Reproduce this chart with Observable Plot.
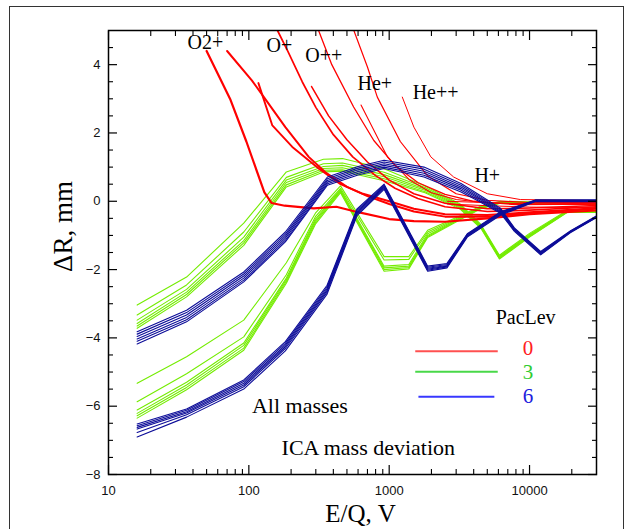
<!DOCTYPE html>
<html><head><meta charset="utf-8">
<script src="https://cdn.jsdelivr.net/npm/d3@7"></script>
<script src="https://cdn.jsdelivr.net/npm/@observablehq/plot@0.6"></script>
<style>
html,body{margin:0;padding:0;background:#fff;overflow:hidden;}
#wrap{position:relative;width:631px;height:529px;}
#border{position:absolute;left:9px;top:6px;width:615px;height:600px;border:1.5px solid #333;border-bottom:none;box-sizing:border-box;pointer-events:none;}
</style></head><body>
<div id="wrap"><div id="border"></div><div id="chart"></div></div>
<script>
// ---------- DATA ----------
// PacLev 3 (green), upper bundle
const g1E = [16, 36, 92, 185, 340, 465, 920, 1800, 3200, 4500, 6100, 10000, 18500, 30000];
const g1Lines = [
  [-3.04, -2.22, -0.64, 0.86, 1.23, 1.25, 0.95, 0.45, -0.08, -0.68, -1.58, -0.94, -0.27, -0.27],
  [-3.33, -2.45, -0.90, 0.70, 1.10, 1.12, 0.85, 0.40, -0.11, -0.71, -1.61, -0.97, -0.29, -0.29],
  [-3.48, -2.58, -1.05, 0.62, 1.02, 1.05, 0.78, 0.36, -0.14, -0.73, -1.63, -0.99, -0.30, -0.30],
  [-3.58, -2.66, -1.15, 0.55, 0.96, 0.98, 0.72, 0.32, -0.17, -0.75, -1.65, -1.01, -0.31, -0.31],
  [-3.65, -2.73, -1.22, 0.48, 0.91, 0.92, 0.66, 0.28, -0.20, -0.77, -1.67, -1.03, -0.32, -0.32],
  [-3.72, -2.80, -1.29, 0.42, 0.86, 0.88, 0.60, 0.25, -0.23, -0.79, -1.69, -1.05, -0.33, -0.33]
];
// PacLev 3 (green), lower bundle
const g2E = [16, 36, 92, 185, 298, 450, 920, 1380, 1880, 3300, 4500, 6200, 12000, 30000];
const g2Lines = [
  [-5.33, -4.55, -3.48, -1.80, -0.35, 0.45, -1.62, -1.62, -0.85, -0.40, -0.14, 0.00, -0.02, -0.03],
  [-5.87, -5.05, -3.97, -2.15, -0.45, 0.38, -1.72, -1.70, -0.90, -0.43, -0.16, -0.02, -0.04, -0.05],
  [-6.11, -5.30, -4.15, -2.25, -0.52, 0.34, -1.90, -1.85, -0.95, -0.45, -0.18, -0.03, -0.05, -0.06],
  [-6.21, -5.38, -4.22, -2.30, -0.57, 0.31, -1.95, -1.90, -1.00, -0.47, -0.19, -0.04, -0.06, -0.07],
  [-6.28, -5.45, -4.30, -2.35, -0.62, 0.28, -2.00, -1.94, -1.03, -0.49, -0.20, -0.05, -0.07, -0.08],
  [-6.35, -5.52, -4.36, -2.40, -0.67, 0.25, -2.05, -1.98, -1.06, -0.51, -0.22, -0.06, -0.08, -0.09]
];
// PacLev 6 (blue), upper bundle
const b1E = [16, 36, 92, 182, 363, 600, 920, 1770, 3250, 4250, 6200, 7800, 12000, 19500, 30000];
const b1Lines = [
  [-3.82, -3.19, -2.07, -0.90, 0.71, 1.02, 1.20, 1.00, 0.52, 0.22, -0.20, -0.78, -1.47, -0.87, -0.43],
  [-3.89, -3.26, -2.13, -0.96, 0.66, 0.97, 1.15, 0.94, 0.47, 0.18, -0.23, -0.80, -1.49, -0.88, -0.44],
  [-3.96, -3.33, -2.19, -1.02, 0.61, 0.92, 1.10, 0.88, 0.42, 0.14, -0.26, -0.82, -1.51, -0.89, -0.45],
  [-4.03, -3.40, -2.25, -1.08, 0.56, 0.87, 1.05, 0.82, 0.37, 0.10, -0.29, -0.84, -1.53, -0.90, -0.46],
  [-4.10, -3.47, -2.31, -1.14, 0.51, 0.82, 1.00, 0.76, 0.32, 0.06, -0.32, -0.86, -1.55, -0.91, -0.47],
  [-4.18, -3.53, -2.36, -1.19, 0.47, 0.77, 0.96, 0.71, 0.27, 0.02, -0.35, -0.88, -1.57, -0.92, -0.48]
];
// PacLev 6 (blue), lower bundle
const b2E = [16, 36, 92, 182, 361, 590, 920, 1880, 2580, 3600, 6200, 11000, 30000];
const b2Lines = [
  [-6.52, -6.08, -5.23, -4.11, -2.46, -0.22, 0.50, -1.90, -1.82, -0.95, -0.31, 0.04, 0.04],
  [-6.57, -6.12, -5.28, -4.16, -2.51, -0.26, 0.47, -1.93, -1.85, -0.97, -0.33, 0.03, 0.03],
  [-6.62, -6.16, -5.33, -4.21, -2.56, -0.30, 0.44, -1.96, -1.88, -0.99, -0.35, 0.02, 0.02],
  [-6.67, -6.20, -5.38, -4.26, -2.61, -0.34, 0.41, -1.99, -1.90, -1.01, -0.37, 0.01, 0.01],
  [-6.77, -6.25, -5.43, -4.31, -2.66, -0.38, 0.38, -2.02, -1.92, -1.03, -0.39, 0.00, 0.00],
  [-6.90, -6.32, -5.50, -4.38, -2.72, -0.42, 0.35, -2.05, -1.95, -1.05, -0.41, -0.01, -0.01]
];
// PacLev 0 (red), one line per ion / sector : [E/Q, dR]
const red_O2p_1 = [[50,4.4],[74,2.97],[96,1.75],[129,0.26],[145,-0.05],[180,-0.13],[290,-0.21],[420,-0.16],[600,-0.32],[1000,-0.52],[1500,-0.58],[2500,-0.6],[5000,-0.5],[10000,-0.38],[30000,-0.27]];
const red_O2p_2 = [[70,4.4],[105,3.54],[128,3.05],[182,2.17],[267,1.3],[351,0.85],[500,0.42],[700,0.15],[1000,-0.08],[1500,-0.3],[2500,-0.45],[5000,-0.45],[10000,-0.35],[30000,-0.22]];
const red_O2p_3 = [[117,3.46],[147,2.22],[204,1.59],[316,0.95],[450,0.5],[650,0.22],[1000,0.0],[1500,-0.22],[2500,-0.38],[5000,-0.4],[10000,-0.32],[30000,-0.2]];
const red_Op_1 = [[160,5.0],[189,4.4],[240,3.5],[300,2.75],[400,1.95],[550,1.3],[800,0.75],[1100,0.38],[1600,0.08],[2500,-0.16],[5000,-0.3],[10000,-0.26],[30000,-0.16]];
const red_Op_2 = [[280,3.36],[370,2.5],[500,1.8],[700,1.15],[1000,0.62],[1500,0.22],[2500,-0.06],[5000,-0.22],[10000,-0.2],[30000,-0.12]];
const red_Opp_1 = [[314,5.0],[390,4.0],[558,2.76],[777,1.78],[1100,1.05],[1600,0.55],[2500,0.2],[4000,0.0],[8000,-0.1],[30000,-0.08]];
const red_Opp_2 = [[560,5.0],[700,3.93],[823,3.05],[1200,1.75],[1870,0.75],[3000,0.22],[5000,0.03],[10000,-0.04],[30000,-0.04]];
const red_Hep = [[630,2.82],[970,1.3],[1400,0.62],[2000,0.25],[3000,0.05],[5000,-0.05],[10000,-0.08],[30000,-0.06]];
const red_Hepp = [[1240,3.05],[1500,2.17],[1980,1.3],[2880,0.71],[5000,0.22],[8600,0.05],[30000,0.02]];
const red_Hp_1 = [[2600,0.0],[5000,-0.04],[10000,-0.08],[30000,-0.1]];
const red_Hp_2 = [[2600,-0.08],[5000,-0.13],[10000,-0.17],[30000,-0.19]];

// ion labels and annotations (data coordinates)
const ionNames = ["O2+", "O+", "O++", "He+", "He++", "H+"];
const ionLabelE = [49, 165, 342, 789, 2140, 5000];
const ionLabelV = [4.66, 4.56, 4.27, 3.45, 3.19, 0.76];
const noteTexts = ["All masses", "ICA mass deviation"];
const noteE = [231, 710];
const noteV = [-5.99, -7.22];
// legend
const pacLevels = ["0", "3", "6"];
const legendE1 = [1546, 1546, 1629];
const legendE2 = [5985, 5985, 5660];
const legendV = [-4.39, -4.99, -5.72];
const legendNumV = [-4.31, -5.0, -5.72];
const legendNumE = 9750;
const legendTitle = "PacLev";
const legendTitleE = 9380, legendTitleV = -3.42;
// ticks
const xMajor = [10, 100, 1000, 10000];
const xMinor = [20,30,40,50,60,70,80,90,200,300,400,500,600,700,800,900,2000,3000,4000,5000,6000,7000,8000,9000,20000];
const yMajor = [-8, -6, -4, -2, 0, 2, 4];
const yMinor = [-7.5,-7,-6.5,-5.5,-5,-4.5,-3.5,-3,-2.5,-1.5,-1,-0.5,0.5,1,1.5,2.5,3,3.5,4.5];

// ---------- STYLE ----------
const RED = "#ff0000", GREEN = "#74ec00", BLUE = "#0c0c98";
const legendColors = {"0": "#ff5050", "3": "#48d848", "6": "#3838ff"};
const legendTextColors = {"0": "#ff2020", "3": "#30cc30", "6": "#2020dd"};
const serif = "'Liberation Serif', 'Times New Roman', serif";
const sans = "'Liberation Sans', Arial, Helvetica, sans-serif";

// ---------- BUILD ----------
function bundleRows(E, lines, group) {
  const rows = [];
  lines.forEach((vals, i) => vals.forEach((v, j) => rows.push({E: E[j], v, id: group + i})));
  return rows;
}
const greenRows = [...bundleRows(g1E, g1Lines, "g1"), ...bundleRows(g2E, g2Lines, "g2")];
const blueRows = [...bundleRows(b1E, b1Lines, "b1"), ...bundleRows(b2E, b2Lines, "b2")];
const redSeries = [
  [red_O2p_1, 2.2], [red_O2p_2, 2.0], [red_O2p_3, 1.9],
  [red_Op_1, 1.7], [red_Op_2, 1.5],
  [red_Opp_1, 1.3], [red_Opp_2, 1.2],
  [red_Hep, 1.1], [red_Hepp, 1.0],
  [red_Hp_1, 1.0], [red_Hp_2, 1.0]
];
const ionRows = ionNames.map((t, i) => ({t, E: ionLabelE[i], v: ionLabelV[i]}));
const noteRows = noteTexts.map((t, i) => ({t, E: noteE[i], v: noteV[i]}));
const legendRows = pacLevels.map((lev, i) => ({lev, E1: legendE1[i], E2: legendE2[i], v: legendV[i], nv: legendNumV[i]}));
const fmtY = d => d < 0 ? "\u2212" + (-d) : String(d);

const chart = Plot.plot({
  width: 631, height: 529,
  marginLeft: 108, marginRight: 35, marginTop: 30, marginBottom: 55,
  x: {type: "log", domain: [10, 30000]},
  y: {domain: [-8, 5]},
  style: {fontFamily: sans, color: "#000", background: "transparent"},
  marks: [
    Plot.line(greenRows, {x: "E", y: "v", z: "id", stroke: GREEN, strokeWidth: 1.1, clip: true}),
    ...redSeries.map(([pts, w]) => Plot.line(pts, {x: d => d[0], y: d => d[1], stroke: RED, strokeWidth: w, clip: true})),
    Plot.line(blueRows, {x: "E", y: "v", z: "id", stroke: BLUE, strokeWidth: 1.1, clip: true}),
    // legend
    Plot.ruleY(legendRows, {x1: "E1", x2: "E2", y: "v", stroke: d => legendColors[d.lev], strokeWidth: 2}),
    Plot.text(legendRows, {x: legendNumE, y: "nv", text: "lev", fill: d => legendTextColors[d.lev], fontFamily: serif, fontSize: 21}),
    Plot.text([legendTitle], {x: legendTitleE, y: legendTitleV, fontFamily: serif, fontSize: 20, fill: "#000"}),
    // annotations
    Plot.text(ionRows, {x: "E", y: "v", text: "t", fontFamily: serif, fontSize: 20, fill: "#000"}),
    Plot.text(noteRows, {x: "E", y: "v", text: "t", fontFamily: serif, fontSize: 22, fill: "#000"}),
    // frame
    Plot.frame({stroke: "#000", strokeWidth: 1.5}),
    // ticks (inward)
    Plot.axisX({anchor: "bottom", ticks: xMajor, tickSize: 9, dy: -9, fill: "none", label: null, strokeWidth: 1.2}),
    Plot.axisX({anchor: "bottom", ticks: xMinor, tickSize: 5, dy: -5, fill: "none", label: null, strokeWidth: 1.1}),
    Plot.axisX({anchor: "top", ticks: xMajor, tickSize: 9, dy: 9, fill: "none", label: null, strokeWidth: 1.2}),
    Plot.axisX({anchor: "top", ticks: xMinor, tickSize: 5, dy: 5, fill: "none", label: null, strokeWidth: 1.1}),
    Plot.axisY({anchor: "left", ticks: yMajor, tickSize: 9, dx: 9, fill: "none", label: null, strokeWidth: 1.2}),
    Plot.axisY({anchor: "left", ticks: yMinor, tickSize: 5, dx: 5, fill: "none", label: null, strokeWidth: 1.1}),
    Plot.axisY({anchor: "right", ticks: yMajor, tickSize: 9, dx: -9, fill: "none", label: null, strokeWidth: 1.2}),
    Plot.axisY({anchor: "right", ticks: yMinor, tickSize: 5, dx: -5, fill: "none", label: null, strokeWidth: 1.1}),
    // tick labels
    Plot.axisX({anchor: "bottom", ticks: xMajor, tickSize: 0, tickPadding: 11, tickFormat: d => String(d), fontSize: 13, fill: "#111", label: null}),
    Plot.axisY({anchor: "left", ticks: yMajor, tickSize: 0, tickPadding: 8, tickFormat: fmtY, fontSize: 13, fill: "#111", label: null}),
    // axis titles
    Plot.text(["\u0394R, mm"], {frameAnchor: "left", textAnchor: "middle", lineAnchor: "middle", rotate: -90, dx: -45, dy: -26, fontSize: 27, fontFamily: serif, fill: "#000"}),
    Plot.text(["E/Q, V"], {frameAnchor: "bottom", textAnchor: "middle", lineAnchor: "middle", dx: 8, dy: 39, fontSize: 25, fontFamily: serif, fill: "#000"})
  ]
});
document.getElementById("chart").appendChild(chart);
</script>
</body></html>
